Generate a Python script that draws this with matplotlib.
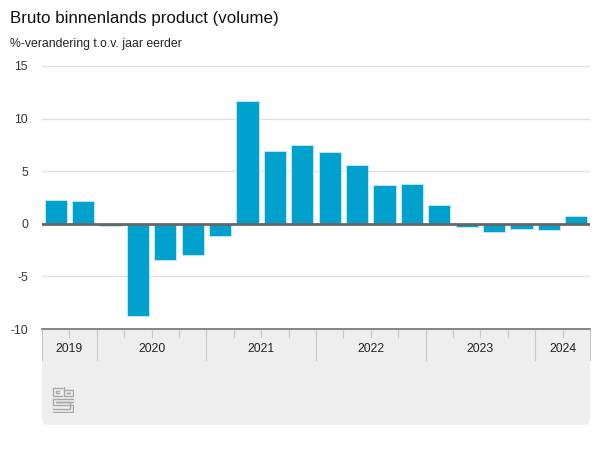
import matplotlib
matplotlib.use("Agg")
import matplotlib.pyplot as plt
from matplotlib.patches import FancyBboxPatch, Rectangle
from matplotlib.transforms import blended_transform_factory

years = ["2019", "2020", "2021", "2022", "2023", "2024"]
quarters_per_year = [2, 4, 4, 4, 4, 2]
values = [2.3, 2.2, -0.2, -8.8, -3.4, -3.0, -1.2, 11.7, 6.9, 7.5, 6.8, 5.6,
          3.7, 3.8, 1.8, -0.3, -0.8, -0.5, -0.6, 0.7]
yticks = [-10, -5, 0, 5, 10, 15]

plt.rcParams['font.family'] = ['Liberation Sans', 'DejaVu Sans']

W, H = 600, 450
fig = plt.figure(figsize=(6, 4.5), dpi=100)

def fx(px):
    return px / W

def fy(py):
    return 1 - py / H

# grey bottom panel
panel = FancyBboxPatch((fx(42), fy(425)), fx(590) - fx(42), fy(340) - fy(425),
                       boxstyle="round,pad=0,rounding_size=0.01",
                       transform=fig.transFigure, facecolor="#eeeeee",
                       edgecolor="none", zorder=-5)
fig.patches.append(panel)
fig.patches.append(Rectangle((fx(42), fy(360)), fx(590) - fx(42), fy(330) - fy(360),
                             transform=fig.transFigure, facecolor="#eeeeee",
                             edgecolor="none", zorder=-5))

ax = fig.add_axes([fx(42), fy(329), fx(590) - fx(42), fy(66) - fy(329)])
ax.set_facecolor("none")
x = list(range(len(values)))
ax.bar(x, values, width=0.81, color="#00a1cd", edgecolor="#bfe6f3",
       linewidth=0.7, zorder=3)
ax.set_xlim(-0.5, len(values) - 0.5)
ax.set_ylim(-10, 15)
ax.set_yticks(yticks)
ax.set_yticklabels([str(t) for t in yticks], fontsize=8.8, color="#333333")
ax.tick_params(axis='y', length=0, pad=10)
ax.set_xticks([])
for s in ["top", "right", "left"]:
    ax.spines[s].set_visible(False)
ax.spines["bottom"].set_color("#6e6e6e")
ax.spines["bottom"].set_linewidth(1.2)
for t in yticks:
    if t > -10:
        ax.axhline(t, color="#e1e1e1", linewidth=1, zorder=1)
ax.axhline(0, color="#666666", linewidth=2, zorder=4)

# year separators and labels
tr = blended_transform_factory(ax.transData, ax.transAxes)
ax_h_px = 329 - 66
def ay(py):
    return (329 - py) / ax_h_px

start = -0.5
for yr, n in zip(years, quarters_per_year):
    end = start + n
    ax.plot([start, start], [ay(330), ay(360)], transform=tr, color="#c8c8c8",
            linewidth=0.8, clip_on=False, zorder=2)
    for k in range(1, n):
        ax.plot([start + k, start + k], [ay(330), ay(337)], transform=tr,
                color="#c8c8c8", linewidth=0.8, clip_on=False, zorder=2)
    ax.text((start + end) / 2, ay(349), yr, transform=tr, ha="center",
            va="center", fontsize=8.8, color="#222222")
    start = end
ax.plot([start, start], [ay(330), ay(360)], transform=tr, color="#c8c8c8",
        linewidth=0.8, clip_on=False, zorder=2)

# titles
fig.text(fx(10), fy(18), "Bruto binnenlands product (volume)", fontsize=12.2,
         color="#111111", ha="left", va="center")
fig.text(fx(10), fy(44), "%-verandering t.o.v. jaar eerder", fontsize=8.8,
         color="#222222", ha="left", va="center")

# simple cbs logo
lax = fig.add_axes([fx(52), fy(413), fx(74) - fx(52), fy(387) - fy(413)])
lax.set_xlim(0, 11)
lax.set_ylim(0, 13)
lax.axis("off")
lc = "#a8a8a8"
lw = 1.0
# c
lax.plot([5, 0.5, 0.5, 5], [12.5, 12.5, 8.5, 8.5], color=lc, lw=lw)
lax.plot([3.5, 2, 2, 3.5], [11, 11, 10, 10], color=lc, lw=lw)
# b
lax.plot([6, 6, 10.5, 10.5, 6], [13, 8.5, 8.5, 11.5, 11.5], color=lc, lw=lw)
lax.plot([7.5, 9, 9, 7.5, 7.5], [10, 10, 10.2, 10.2, 10], color=lc, lw=lw)
# s
lax.plot([10.5, 0.5, 0.5, 10.5, 10.5, 0.5], [7, 7, 4, 4, 0.5, 0.5], color=lc, lw=lw)
lax.plot([10.5, 2, 2, 9, 9, 0.5], [5.5, 5.5, 5.5, 5.5, 2, 2], color=lc, lw=lw)

fig.savefig("out.png", dpi=100)
